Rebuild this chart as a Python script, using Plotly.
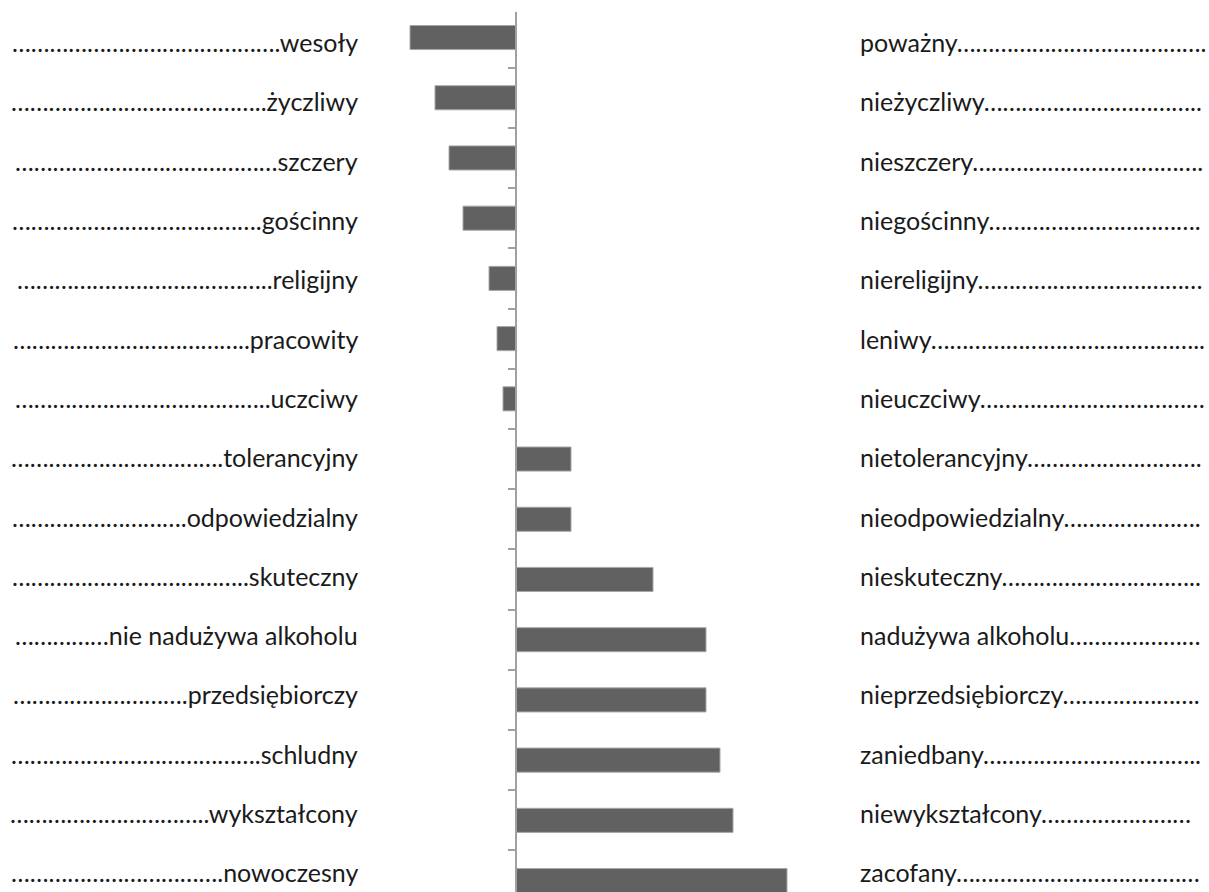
import plotly.graph_objects as go

# Data
left_words = ["wesoły", "życzliwy", "szczery", "gościnny", "religijny", "pracowity",
              "uczciwy", "tolerancyjny", "odpowiedzialny", "skuteczny",
              "nie nadużywa alkoholu", "przedsiębiorczy", "schludny", "wykształcony",
              "nowoczesny"]
right_words = ["poważny", "nieżyczliwy", "nieszczery", "niegościnny", "niereligijny",
               "leniwy", "nieuczciwy", "nietolerancyjny", "nieodpowiedzialny",
               "nieskuteczny", "nadużywa alkoholu", "nieprzedsiębiorczy", "zaniedbany",
               "niewykształcony", "zacofany"]
values = [-1.06, -0.81, -0.67, -0.53, -0.27, -0.19, -0.13, 0.55, 0.55, 1.37,
          1.90, 1.90, 2.04, 2.17, 2.71]
# number of leader dots in each label
left_dots = [43, 41, 42, 40, 41, 38, 41, 34, 28, 38, 15, 28, 40, 32, 34]
right_dots = [40, 35, 37, 34, 36, 44, 36, 28, 22, 32, 21, 22, 35, 24, 39]

W, H = 1209, 892
AXIS_PX = 516
FONT = "Lato"
FS = 25


def leader(n):
    return "…" * (n // 3) + "." * (n % 3)


cats = [str(i) for i in range(len(left_words))]

fig = go.Figure()
fig.add_trace(go.Bar(
    x=values, y=cats, orientation="h",
    marker=dict(color="#616161", line=dict(color="#a8a8a8", width=1)),
    hoverinfo="skip", showlegend=False,
))
# invisible trace on y2 (label axis)
fig.add_trace(go.Scatter(x=[0], y=[0], yaxis="y2", mode="markers",
                         marker=dict(opacity=0), hoverinfo="skip", showlegend=False))

for i, (lw, rw) in enumerate(zip(left_words, right_words)):
    fig.add_annotation(x=360 / W, xref="paper", y=i, yref="y2",
                       text=leader(left_dots[i]) + lw, showarrow=False,
                       xanchor="right", yanchor="middle",
                       font=dict(family=FONT, size=FS, color="#1a1a1a"))
    fig.add_annotation(x=858 / W, xref="paper", y=i, yref="y2",
                       text=rw + leader(right_dots[i]), showarrow=False,
                       xanchor="left", yanchor="middle",
                       font=dict(family=FONT, size=FS, color="#1a1a1a"))

fig.update_layout(
    width=W, height=H,
    margin=dict(l=0, r=0, t=12, b=0),
    paper_bgcolor="white", plot_bgcolor="white",
    bargap=0.6,
    xaxis=dict(range=[-AXIS_PX / 100, (W - AXIS_PX) / 100], visible=False,
               showgrid=False, zeroline=False, fixedrange=True),
    yaxis=dict(type="category", categoryorder="array", categoryarray=cats,
               range=[14.19, -0.424], anchor="free", position=AXIS_PX / W,
               showline=True, linecolor="#a0a0a0", linewidth=2,
               ticks="outside", tickson="boundaries", ticklen=7,
               tickcolor="#a0a0a0", tickwidth=2,
               showticklabels=False, showgrid=False, zeroline=False),
    yaxis2=dict(overlaying="y", range=[14.33, -0.506], visible=False,
                showgrid=False, zeroline=False),
)

fig.write_html("out.html", config={"displayModeBar": False},
               post_script="document.body.style.margin='0px';")
